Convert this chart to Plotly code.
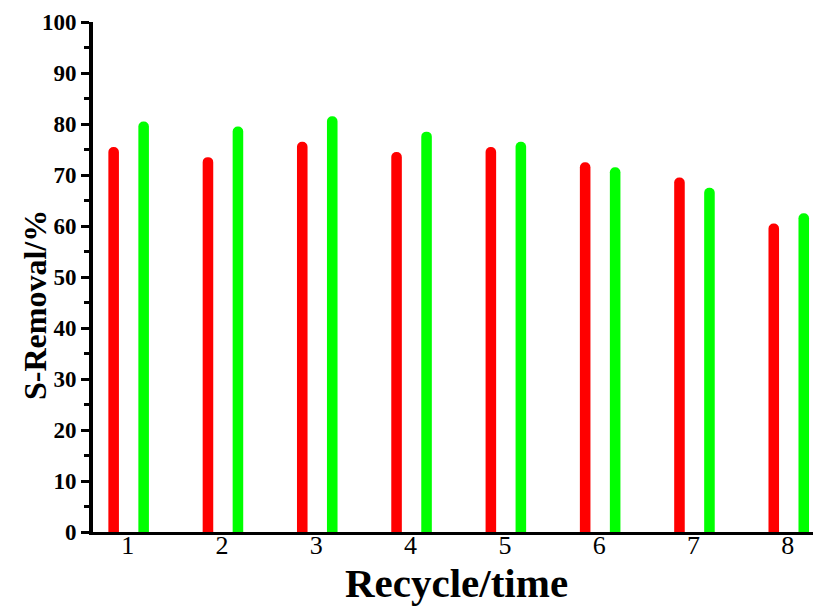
import plotly.graph_objects as go

cycles = [1, 2, 3, 4, 5, 6, 7, 8]
tick_labels = ["1", "2", "3", "4", "5", "6", "7", "8"]
red_values = [75.5, 73.5, 76.5, 74.5, 75.5, 72.5, 69.5, 60.5]
green_values = [80.5, 79.5, 81.5, 78.5, 76.5, 71.5, 67.5, 62.5]
y_ticks = [0, 10, 20, 30, 40, 50, 60, 70, 80, 90, 100]

W, H = 814, 608
L, R, T, B = 93, 1, 22, 76

fig = go.Figure()
fig.add_trace(go.Bar(x=cycles, y=red_values, width=0.112, offset=-0.205,
                     marker=dict(color="#FF0000", line=dict(width=0), cornerradius=5),
                     showlegend=False))
fig.add_trace(go.Bar(x=cycles, y=green_values, width=0.112, offset=0.113,
                     marker=dict(color="#00FF00", line=dict(width=0), cornerradius=5),
                     showlegend=False))

fig.update_layout(
    width=W, height=H,
    margin=dict(l=L, r=R, t=T, b=B, autoexpand=False),
    paper_bgcolor="white", plot_bgcolor="white",
    font=dict(family="Liberation Serif", color="black"),
    barmode="overlay",
    xaxis=dict(
        range=[0.632, 8.267], tickmode="array", tickvals=cycles, ticktext=tick_labels,
        showgrid=False, zeroline=False, showline=True, linecolor="black", linewidth=3,
        ticks="", tickfont=dict(size=26, family="Liberation Serif"),
        automargin=False, ticklabelstandoff=-12,
    ),
    yaxis=dict(
        range=[0, 100], tickmode="array", tickvals=y_ticks,
        showgrid=False, zeroline=False, showline=True, linecolor="black", linewidth=4,
        ticks="outside", ticklen=8, tickwidth=3, tickcolor="black",
        tickfont=dict(size=23, family="Liberation Serif", weight="bold"),
        minor=dict(dtick=5, ticks="outside", ticklen=5, tickwidth=3, tickcolor="black"),
        automargin=False,
    ),
    annotations=[
        dict(text="<b>S-Removal/%</b>", textangle=-90, xref="paper", yref="paper",
             x=(35 - L) / 720, y=(532 - 305) / 510, xanchor="center", yanchor="middle",
             showarrow=False, font=dict(size=32, family="Liberation Serif")),
        dict(text="<b>Recycle/time</b>", xref="paper", yref="paper",
             x=(456 - L) / 720, y=(532 - 583) / 510, xanchor="center", yanchor="middle",
             showarrow=False, font=dict(size=41, family="Liberation Serif")),
    ],
)

fig.write_html("out.html", config={"displayModeBar": False},
               post_script="document.body.style.margin='0';document.body.style.overflow='hidden';")
